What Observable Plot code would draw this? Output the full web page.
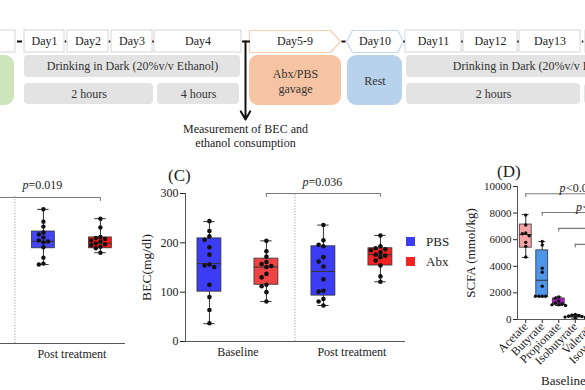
<!DOCTYPE html>
<html><head><meta charset="utf-8">
<script src="https://cdn.jsdelivr.net/npm/d3@7"></script>
<script src="https://cdn.jsdelivr.net/npm/@observablehq/plot@0.6"></script>
<style>
body{margin:0;background:#fff;}
#fig{position:relative;width:585px;height:390px;overflow:hidden;background:#fff;font-family:"Liberation Serif","Times New Roman",serif;color:#222;}
#fig > svg, #fig > div{position:absolute;}
.lbl{white-space:nowrap;}
</style></head><body><div id="fig"></div>
<script>
// ---------------- Timeline diagram (diagram units) ----------------
const dayLabels = ["", "Day1", "Day2", "Day3", "Day4", "Day5-9", "Day10", "Day11", "Day12", "Day13", ""];
const dayFrom   = [-40, 24, 67, 111, 154, 249, 346, 405, 463, 519, 585];
const dayTo     = [15, 64, 108, 152, 241, 340, 403, 461, 517, 580, 640];
const dayShape  = ["box","box","box","box","box","arrow","hex","box","box","box","box"];
const connectorAt  = [19.5, 65.5, 109.5, 153, 343.5, 404, 462, 518, 582.5];
const connectorLen = [5, 1.5, 1.5, 1.5, 4, 1.5, 1.5, 1.5, 1.5];
const activityLabels = ["Drinking in Dark (20%v/v Ethanol)", "2 hours", "4 hours", "Drinking in Dark (20%v/v Ethanol)", "2 hours", ""];
const activityFrom = [24, 24, 157, 406, 406, 584];
const activityTo   = [240, 153, 239, 670, 580, 640];
const activityRow  = [2, 3, 3, 2, 3, 3];
const phaseLabels = ["", "Abx/PBS\ngavage", "Rest"];
const phaseFrom = [-30, 249, 347];
const phaseTo   = [14, 341, 402];
const phaseFill = ["#cde4bd", "#f6c4a2", "#b8d2eb"];
const measurementText = "Measurement of BEC and\nethanol consumption";
const measurementAt = 245;

// ---------------- Panel B / C : BEC boxplots ----------------
const groups = ["Baseline", "Post treatment"];
const treatments = ["PBS", "Abx"];
const boxPos = [1, 2, 3, 4]; // Baseline-PBS, Baseline-Abx, Post-PBS, Post-Abx
const boxTreat = ["PBS", "Abx", "PBS", "Abx"];

// Panel C (BEC mg/dl)
const cMin = [36, 81, 73, 121];
const cQ1  = [101, 115, 93, 154];
const cMed = [158, 151, 142, 176];
const cQ3  = [209, 168, 193, 189];
const cMax = [243, 204, 236, 215];
const cBaselinePBS = [244, 224, 213, 206, 191, 176, 156, 154, 151, 115, 90, 64, 37];
const cBaselineAbx = [204, 183, 172, 161, 157, 153, 151, 137, 130, 115, 112, 100, 81];
const cPostPBS     = [236, 205, 196, 193, 171, 162, 152, 126, 103, 101, 86, 81, 73];
const cPostAbx     = [215, 193, 189, 187, 185, 181, 176, 174, 171, 164, 154, 132, 121];
const cColors = ["#3c3cf4", "#ef4444", "#3c3cf4", "#f52222"];
const cPText = "=0.036";

// Panel B (visible: post treatment only)
const bPos = [3, 4];
const bMin = [160, 184];
const bQ1  = [193, 193];
const bMed = [207, 203];
const bQ3  = [227, 215];
const bMax = [272, 253];
const bPostPBS = [272, 247, 237, 225, 221, 215, 209, 207, 205, 195, 174, 162, 160];
const bPostAbx = [253, 235, 216, 214, 212, 209, 207, 203, 201, 199, 196, 193, 184];
const bColors = ["#4444f2", "#ff1414"];
const bPText = "=0.019";

// ---------------- Panel D : SCFA ----------------
const scfaNames = ["Acetate", "Butyrate", "Propionate", "Isobutyrate", "Valerate", "Isovalerate"];
const dMin = [4660, 1700, 1050, 100];
const dQ1  = [5400, 1700, 1100, 150];
const dMed = [6390, 2950, 1250, 220];
const dQ3  = [7140, 5200, 1580, 300];
const dMax = [7900, 5860, 1700, 380];
const dAcetate    = [7850, 7100, 6500, 6450, 6300, 5800, 5500, 4700];
const dButyrate   = [5860, 5600, 3850, 3550, 2500, 1750, 1750, 1750, 1750];
const dPropionate = [1700, 1600, 1400, 1250, 1150, 1100, 1100, 1050];
const dIsobutyrate = [380, 330, 300, 250, 220, 180, 150, 120];
const dColors = ["#f4a4a4", "#4f95ea", "#b21ec6", "#555555"];
const dBracketFrom = [0, 1, 2, 3];
const dBracketY = [9450, 8050, 6850, 5650];
const dBracketText = ["<0.001", "<0.001", "", ""];

// ---------------- helpers ----------------
const fig = document.getElementById("fig");
const baseStyle = {fontFamily: "'Liberation Serif','Times New Roman',serif", fontSize: "12px", color: "#222", background: "none", overflow: "visible"};
function place(el, left, top) { el.style.left = left + "px"; el.style.top = top + "px"; fig.appendChild(el); }
function label(html, left, top, size, extra = "") {
  const d = document.createElement("div");
  d.className = "lbl";
  d.innerHTML = html;
  d.style.cssText = `font-size:${size}px;line-height:${size}px;${extra}`;
  place(d, left, top);
  return d;
}
// deterministic non-overlapping horizontal spread of points
function swarm(values, pos, pxPerY, pxPerX, r, stepPx) {
  const placed = [];
  const sorted = [...values].sort((a, b) => b - a);
  for (const v of sorted) {
    let off = 0;
    for (const c of [0, -1, 1, -2, 2, -3, 3, -4, 4]) {
      const o = c * stepPx;
      if (placed.every(p => Math.hypot((p.v - v) * pxPerY, p.o - o) >= 2 * r)) { off = o; break; }
    }
    placed.push({v, o: off});
  }
  return placed.map(p => ({x: pos + p.o / pxPerX, y: p.v}));
}
function boxMarks(pos, mn, q1, md, q3, mx, colors, half, capHalf, stroke) {
  const rows = pos.map((p, i) => ({p, mn: mn[i], q1: q1[i], md: md[i], q3: q3[i], mx: mx[i], c: colors[i]}));
  return [
    Plot.ruleX(rows, {x: "p", y1: "mn", y2: "q1", stroke}),
    Plot.ruleX(rows, {x: "p", y1: "q3", y2: "mx", stroke}),
    Plot.ruleY(rows, {y: "mn", x1: d => d.p - capHalf, x2: d => d.p + capHalf, stroke}),
    Plot.ruleY(rows, {y: "mx", x1: d => d.p - capHalf, x2: d => d.p + capHalf, stroke}),
    Plot.rect(rows, {x1: d => d.p - half, x2: d => d.p + half, y1: "q1", y2: "q3", fill: "c", stroke, strokeWidth: 0.8}),
    Plot.ruleY(rows, {y: "md", x1: d => d.p - half, x2: d => d.p + half, stroke, strokeWidth: 1})
  ];
}

// ---------------- Timeline ----------------
{
  const days = dayLabels.map((t, i) => ({t, a: dayFrom[i], b: dayTo[i], s: dayShape[i]}));
  const shapes = [];
  days.forEach((d, i) => {
    const T = 30, M = 41, B = 52;
    let pts = null;
    if (d.s === "arrow") pts = [[d.a, T], [d.b - 10, T], [d.b, M], [d.b - 10, B], [d.a, B], [d.a, T]];
    if (d.s === "hex") pts = [[d.a + 6, T], [d.b - 6, T], [d.b, M], [d.b - 6, B], [d.a + 6, B], [d.a, M], [d.a + 6, T]];
    if (pts) pts.forEach(([x, y]) => shapes.push({x, y, z: i, c: d.s === "arrow" ? "#f6cfb4" : "#c2d8ee"}));
  });
  const acts = activityLabels.map((t, i) => ({t, a: activityFrom[i], b: activityTo[i], y1: activityRow[i] === 2 ? 55 : 83, y2: activityRow[i] === 2 ? 77 : 104}));
  const phases = phaseLabels.map((t, i) => ({t, a: phaseFrom[i], b: phaseTo[i], c: phaseFill[i]}));
  const conns = connectorAt.map((x, i) => ({x, l: connectorLen[i]}));
  const tl = Plot.plot({
    width: 585, height: 150, margin: 0,
    x: {domain: [0, 585], range: [0, 585], axis: null},
    y: {domain: [0, 150], range: [0, 150], axis: null},
    style: baseStyle,
    marks: [
      Plot.rect(days.filter(d => d.s === "box"), {x1: "a", x2: "b", y1: 30, y2: 52, fill: "white", stroke: "#d6d6d6"}),
      Plot.line(shapes, {x: "x", y: "y", z: "z", stroke: "c", strokeWidth: 1.2}),
      Plot.text(days, {x: d => (d.a + d.b) / 2, y: 41, text: "t", fontSize: 12, fill: "#222"}),
      Plot.ruleY(conns, {y: 41, x1: d => d.x - d.l / 2, x2: d => d.x + d.l / 2, stroke: "#111", strokeWidth: 2}),
      Plot.rect(acts, {x1: "a", x2: "b", y1: "y1", y2: "y2", fill: "#e3e3e3", rx: 4}),
      Plot.text(acts, {x: d => (d.a + d.b) / 2, y: d => (d.y1 + d.y2) / 2, text: "t", fontSize: 12, fill: "#333"}),
      Plot.rect(phases, {x1: "a", x2: "b", y1: 55, y2: 105, fill: "c", rx: 9}),
      Plot.text(phases, {x: d => (d.a + d.b) / 2, y: 80, text: "t", fontSize: 12, lineHeight: 1.25, fill: "#333"}),
      Plot.ruleY([measurementAt], {y: 41, x1: d => d - 3, x2: d => d + 5, stroke: "#111", strokeWidth: 2}),
      Plot.arrow([measurementAt], {x1: d => d, x2: d => d, y1: 41, y2: 119, stroke: "#111", strokeWidth: 2, headLength: 7}),
      Plot.text([measurementText], {x: measurementAt, y: 135, text: d => d, fontSize: 12, lineHeight: 1.2, fill: "#222"})
    ]
  });
  place(tl, 0, 0);
}

// ---------------- Panel B (partial) ----------------
{
  const pxX = 57, pxY = 148 / 300;
  const pts = [...swarm(bPostPBS, 3, pxY, pxX, 2.2, 4.6), ...swarm(bPostAbx, 4, pxY, pxX, 2.2, 4.6)];
  const pB = Plot.plot({
    width: 280, height: 240, marginLeft: 55, marginRight: 5, marginTop: 45, marginBottom: 47,
    x: {domain: [0.58, 4.44]}, y: {domain: [0, 300], axis: null},
    style: baseStyle,
    marks: [
      Plot.ruleX([2.5], {y1: 0, y2: 300, stroke: "#a0a0a0", strokeDasharray: "1.2,1.6"}),
      Plot.axisX({ticks: [3.5], tickFormat: () => groups[1], tickSize: 0, tickPadding: 6, fontSize: 12, label: null}),
      Plot.ruleY([0], {stroke: "#555"}),
      ...boxMarks(bPos, bMin, bQ1, bMed, bQ3, bMax, bColors, 0.2, 0.1, "#333"),
      Plot.dot(pts, {x: "x", y: "y", r: 2.2, fill: "#111"}),
      Plot.ruleY([296], {x1: 2, x2: 4, stroke: "#777"}),
      Plot.ruleX([2, 4], {y1: 288, y2: 296, stroke: "#777"}),
      Plot.text(["p"], {x: 3, y: 320, text: d => d, dx: -15, textAnchor: "end", fontStyle: "italic", fontSize: 12}),
      Plot.text([bPText], {x: 3, y: 320, text: d => d, dx: -15, textAnchor: "start", fontSize: 12})
    ]
  });
  place(pB, -150, 150);
}

// ---------------- Panel C ----------------
{
  const pxX = 57, pxY = 148 / 300;
  const series = [cBaselinePBS, cBaselineAbx, cPostPBS, cPostAbx];
  const pts = series.flatMap((s, i) => swarm(s, boxPos[i], pxY, pxX, 2.3, 4.8));
  const pC = Plot.plot({
    width: 280, height: 240, marginLeft: 55, marginRight: 5, marginTop: 43, marginBottom: 49,
    x: {domain: [0.58, 4.44]}, y: {domain: [0, 300]},
    style: baseStyle,
    marks: [
      Plot.ruleX([2.5], {y1: 0, y2: 300, stroke: "#a0a0a0", strokeDasharray: "1.2,1.6"}),
      Plot.axisY({ticks: [0, 100, 200, 300], tickSize: 5, tickPadding: 2, fontSize: 12, label: null}),
      Plot.axisY({ticks: [], label: "BEC(mg/dl)", labelAnchor: "center", labelArrow: "none", labelOffset: 44, fontSize: 13.5}),
      Plot.axisX({ticks: [1.5, 3.5], tickFormat: d => groups[d < 2.5 ? 0 : 1], tickSize: 0, tickPadding: 6, fontSize: 12, label: null}),
      Plot.ruleX([0.58], {y1: 0, y2: 300, stroke: "#555"}),
      Plot.ruleY([0], {stroke: "#555"}),
      ...boxMarks(boxPos, cMin, cQ1, cMed, cQ3, cMax, cColors, 0.21, 0.1, "#333"),
      Plot.dot(pts, {x: "x", y: "y", r: 2.3, fill: "#111"}),
      Plot.ruleY([300], {x1: 2, x2: 4, stroke: "#777"}),
      Plot.ruleX([2, 4], {y1: 292, y2: 300, stroke: "#777"}),
      Plot.text(["p"], {x: 3, y: 322, text: d => d, dx: -15, textAnchor: "end", fontStyle: "italic", fontSize: 12}),
      Plot.text([cPText], {x: 3, y: 322, text: d => d, dx: -15, textAnchor: "start", fontSize: 12})
    ]
  });
  place(pC, 130, 150);
  label("(C)", 168, 167, 17);
}

// ---------------- Legend ----------------
treatments.forEach((t, i) => {
  const sw = document.createElement("div");
  sw.style.cssText = `width:9px;height:9px;background:${i === 0 ? cColors[0] : cColors[3]};`;
  place(sw, 406, 237 + i * 20);
  label(t, 426, 235 + i * 20, 13);
});

// ---------------- Panel D ----------------
{
  const pxX = 16.5, pxY = 133 / 10000;
  const series = [dAcetate, dButyrate, dPropionate, dIsobutyrate];
  const pts = series.flatMap((s, i) => swarm(s, i, pxY, pxX, 1.7, 3.4));
  const pD = Plot.plot({
    width: 176, height: 240, marginLeft: 77, marginRight: 0, marginTop: 36, marginBottom: 71,
    x: {domain: [-0.5, 5.5]}, y: {domain: [0, 10000]},
    style: baseStyle,
    marks: [
      Plot.axisY({ticks: [0, 2000, 4000, 6000, 8000, 10000], tickFormat: d => String(d), tickSize: 4, tickPadding: 2, fontSize: 11, label: null}),
      Plot.axisY({ticks: [], label: "SCFA (mmol/kg)", labelAnchor: "center", labelArrow: "none", labelOffset: 52, fontSize: 13}),
      Plot.axisX({ticks: [0, 1, 2, 3, 4, 5], tickFormat: i => scfaNames[i], tickRotate: -45, tickSize: 4, tickPadding: 1, fontSize: 12, label: null}),
      Plot.ruleX([-0.5], {y1: 0, y2: 10000, stroke: "#555"}),
      Plot.ruleY([0], {stroke: "#555"}),
      ...boxMarks([0, 1, 2, 3], dMin, dQ1, dMed, dQ3, dMax, dColors, 0.36, 0.2, "#333"),
      Plot.dot(pts, {x: "x", y: "y", r: 1.7, fill: "#111"}),
      Plot.ruleY(dBracketFrom, {y: (d, i) => dBracketY[i], x1: d => d, x2: 7, stroke: "#7a7a7a", strokeWidth: 1.1}),
      Plot.ruleX(dBracketFrom, {x: d => d, y1: (d, i) => dBracketY[i] - 280, y2: (d, i) => dBracketY[i], stroke: "#7a7a7a", strokeWidth: 1.1}),
      Plot.text(dBracketFrom, {filter: (d, i) => dBracketText[i], x: d => d + 2.05, y: (d, i) => dBracketY[i] + 430, text: () => "p", textAnchor: "start", fontStyle: "italic", fontSize: 12}),
      Plot.text(dBracketFrom, {filter: (d, i) => dBracketText[i], x: d => d + 2.05, y: (d, i) => dBracketY[i] + 430, text: (d, i) => dBracketText[i], dx: 6.5, textAnchor: "start", fontSize: 12})
    ]
  });
  place(pD, 440, 150);
  label("(D)", 497, 163, 17);
  label("Baseline", 541, 374, 13);
}
</script></body></html>
